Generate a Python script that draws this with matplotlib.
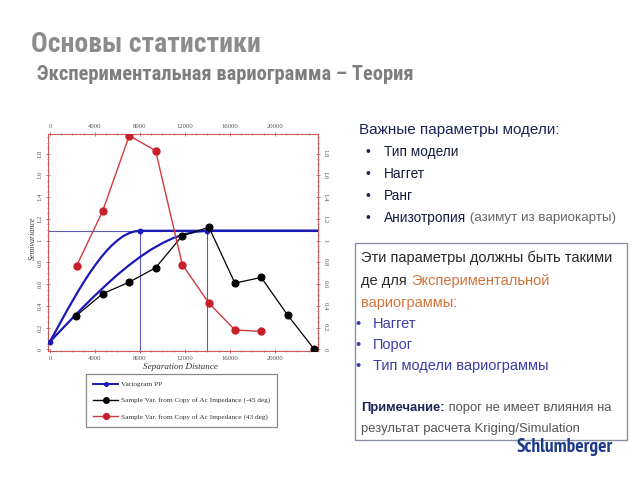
import matplotlib
matplotlib.use("Agg")
import matplotlib.pyplot as plt
from matplotlib.lines import Line2D
from matplotlib.patches import Rectangle

# ---------------- data ----------------
red_x = [2370, 4680, 7050, 9390, 11760, 14130, 16440, 18780]
red_y = [0.768, 1.27, 1.965, 1.827, 0.78, 0.425, 0.178, 0.165]

black_x = [2340, 4680, 7050, 9390, 11760, 14130, 16440, 18780, 21150, 23500]
black_y = [0.309, 0.511, 0.618, 0.75, 1.044, 1.123, 0.609, 0.661, 0.312, 0.0]

model_a_x = [0, 500, 1000, 1500, 2000, 2500, 3000, 3500, 4000, 4500, 5000, 5500,
             6000, 6500, 7000, 7500, 8000, 23800]
model_a_y = [0.07, 0.165, 0.26, 0.354, 0.444, 0.533, 0.617, 0.697, 0.771, 0.84,
             0.902, 0.956, 1.002, 1.04, 1.067, 1.084, 1.09, 1.09]

model_b_x = [0, 1000, 2000, 3000, 4000, 5000, 6000, 7000, 8000, 9000, 10000,
             11000, 12000, 13000, 14000, 23800]
model_b_y = [0.07, 0.179, 0.287, 0.393, 0.495, 0.593, 0.686, 0.771, 0.849, 0.918,
             0.977, 1.025, 1.06, 1.082, 1.09, 1.09]

model_pts_x = [0, 8000, 14000]
model_pts_y = [0.07, 1.09, 1.09]
sill = 1.09
model_ranges = [8000, 14000]

x_ticks = [0, 4000, 8000, 12000, 16000, 20000]
y_ticks = [0, 0.2, 0.4, 0.6, 0.8, 1.0, 1.2, 1.4, 1.6, 1.8]
y_tick_labels = ["0", "0.2", "0.4", "0.6", "0.8", "1", "1.2", "1.4", "1.6", "1.8"]

legend_labels = ["Variogram PP",
                 "Sample Var. from Copy of Ac Impedance (-45 deg)",
                 "Sample Var. from Copy of Ac Impedance (43 deg)"]

# ---------------- figure ----------------
W, H = 640, 480
fig = plt.figure(figsize=(6.4, 4.8), dpi=100)
fig.patch.set_facecolor("white")

def fx(px):
    return px / W

def fy(py):
    return 1 - py / H

SERIF = ["Liberation Serif", "DejaVu Serif"]
SANS = ["Liberation Sans", "DejaVu Sans"]
COND = ["Roboto Condensed", "PT Sans Narrow", "Liberation Sans", "DejaVu Sans"]
NARROW = ["PT Sans Narrow", "Liberation Sans", "DejaVu Sans"]

ax = fig.add_axes([fx(47.7), fy(351.3), fx(317.7) - fx(47.7), fy(134) - fy(351.3)])
ax.set_xlim(-200, 23800)
ax.set_ylim(-0.018, 1.98)

RED = "#c8202a"
REDL = "#d23a3a"
BLUE = "#1a1ab4"
THIN = "#5a5ab4"
SPINE = "#c85a5a"

ax.axhline(sill, color=THIN, lw=0.8, zorder=2)
ax.vlines(model_ranges, -0.018, sill, color=THIN, lw=0.8, zorder=2)
ax.plot(model_a_x, model_a_y, color=BLUE, lw=1.6, zorder=3)
ax.plot(model_b_x, model_b_y, color=BLUE, lw=1.6, zorder=3)
ax.plot(model_pts_x, model_pts_y, 'o', color=BLUE, ms=3.2, zorder=4, ls='none')

ax.plot(black_x, black_y, '-o', color="black", lw=0.9, ms=4.8, zorder=5)
ax.plot(red_x, red_y, '-', color=REDL, lw=1.0, zorder=5)
ax.plot(red_x, red_y, 'o', color=RED, ms=5.0, zorder=6)

for s in ax.spines.values():
    s.set_color(SPINE)
    s.set_linewidth(0.8)

ax.set_xticks(x_ticks)
ax.set_xticklabels([str(v) for v in x_ticks])
ax.set_yticks(y_ticks)
ax.set_yticklabels(y_tick_labels)
ax.set_xticks(range(0, 24000, 1000), minor=True)
ax.set_yticks([i * 0.05 for i in range(40)], minor=True)
ax.tick_params(which="both", top=True, right=True, labeltop=True, labelright=True,
               direction="inout", colors=SPINE, labelcolor="#555555", labelsize=4.8)
ax.tick_params(which="major", length=3, width=0.6)
ax.tick_params(which="minor", length=1.6, width=0.5)
ax.tick_params(axis="x", pad=2)
ax.tick_params(axis="y", pad=2)
for t in ax.yaxis.get_major_ticks():
    t.label1.set_rotation(90)
    t.label1.set_va("center")
    t.label1.set_fontfamily(SERIF)
    t.label2.set_rotation(270)
    t.label2.set_va("center")
    t.label2.set_fontfamily(SERIF)
for t in ax.xaxis.get_major_ticks():
    t.label1.set_fontfamily(SERIF)
    t.label2.set_fontfamily(SERIF)

fig.text(fx(33), fy(238), "Semivariance", rotation=90, ha="center", va="center",
         fontsize=5.8, style="italic", family=SERIF, color="#333333")
fig.text(fx(180), fy(367), "Separation Distance", ha="center", va="center",
         fontsize=6.6, style="italic", family=SERIF, color="#333333")

handles = [
    Line2D([], [], color=BLUE, lw=1.4, marker="o", ms=2.6),
    Line2D([], [], color="black", lw=1.0, marker="o", ms=4),
    Line2D([], [], color=REDL, lw=1.0, marker="o", mfc=RED, mec=RED, ms=4.2),
]
leg = fig.legend(handles, legend_labels, loc="upper left",
                 bbox_to_anchor=(fx(85.7), fy(374)), borderaxespad=0,
                 prop={"family": SERIF, "size": 5.2}, handlelength=3.5,
                 handletextpad=0.35, labelspacing=1.35, borderpad=1.0,
                 fancybox=False, framealpha=1, edgecolor="#888888")
leg.get_frame().set_linewidth(0.9)
for t in leg.get_texts():
    t.set_color("#333333")

# ---------------- titles ----------------
fig.text(fx(31), fy(44), "Основы статистики", fontsize=20, fontweight="bold",
         family=COND, color="#8c8c8c", ha="left", va="center")
fig.text(fx(37), fy(74), "Экспериментальная вариограмма – Теория", fontsize=14.8,
         fontweight="bold", family=COND, color="#7e7e7e", ha="left", va="center")

# ---------------- right text ----------------
NAVY = "#1c2458"
fig.text(fx(359), fy(130), "Важные параметры модели:", fontsize=11, family=SANS,
         color=NAVY, ha="left", va="center")
items = ["Тип модели", "Наггет", "Ранг", "Анизотропия"]
ys = [152, 174, 196, 218]
last = None
for it, yy in zip(items, ys):
    fig.text(fx(366), fy(yy), "•", fontsize=10, family=SANS, color=NAVY,
             ha="left", va="center")
    last = fig.text(fx(384), fy(yy), it, fontsize=9.8, family=SANS, color="#141a3c",
                    ha="left", va="center")
fig.canvas.draw()
plt.annotate(" (азимут из вариокарты)", xy=(1, 0.5), xycoords=last,
             ha="left", va="center", fontsize=9.6, family=SANS, color="#666666",
             annotation_clip=False)

# box
fig.patches.append(Rectangle((fx(355), fy(440)), fx(627) - fx(355), fy(243) - fy(440),
                             transform=fig.transFigure, fill=False,
                             edgecolor="#8a90a4", lw=1.0))

DARK = "#2a2a2a"
ORANGE = "#d2733a"
VIOLET = "#3c3ca8"
GRAY = "#555555"
fs = 10.5
fig.text(fx(361), fy(258), "Эти параметры должны быть такими", fontsize=fs,
         family=SANS, color=DARK, ha="left", va="center")
t1 = fig.text(fx(361), fy(281), "де для ", fontsize=fs, family=SANS, color=DARK,
              ha="left", va="center")
fig.canvas.draw()
plt.annotate("Экспериментальной", xy=(1, 0.5), xycoords=t1, ha="left", va="center",
             fontsize=fs, family=SANS, color=ORANGE, annotation_clip=False)
fig.text(fx(361), fy(303), "вариограммы:", fontsize=fs, family=SANS, color=ORANGE,
         ha="left", va="center")
for it, yy in zip(["Наггет", "Порог", "Тип модели вариограммы"], [324, 345, 366]):
    fig.text(fx(355), fy(yy), "•", fontsize=fs, family=SANS, color=VIOLET,
             ha="left", va="center")
    fig.text(fx(373), fy(yy), it, fontsize=fs, family=SANS, color=VIOLET,
             ha="left", va="center")
fs2 = 9.4
t2 = fig.text(fx(361), fy(408), "Примечание:", fontsize=fs2, family=SANS,
              fontweight="bold", color=NAVY, ha="left", va="center")
fig.canvas.draw()
plt.annotate(" порог не имеет влияния на", xy=(1, 0.5), xycoords=t2, ha="left",
             va="center", fontsize=fs2, family=SANS, color=GRAY, annotation_clip=False)
fig.text(fx(361), fy(429), "результат расчета Kriging/Simulation", fontsize=fs2,
         family=SANS, color=GRAY, ha="left", va="center")

fig.text(fx(613), fy(447), "Schlumberger", fontsize=14, fontweight="bold",
         family=NARROW, color="#1f3a8c", ha="right", va="center")

fig.savefig("out.png", dpi=100)
